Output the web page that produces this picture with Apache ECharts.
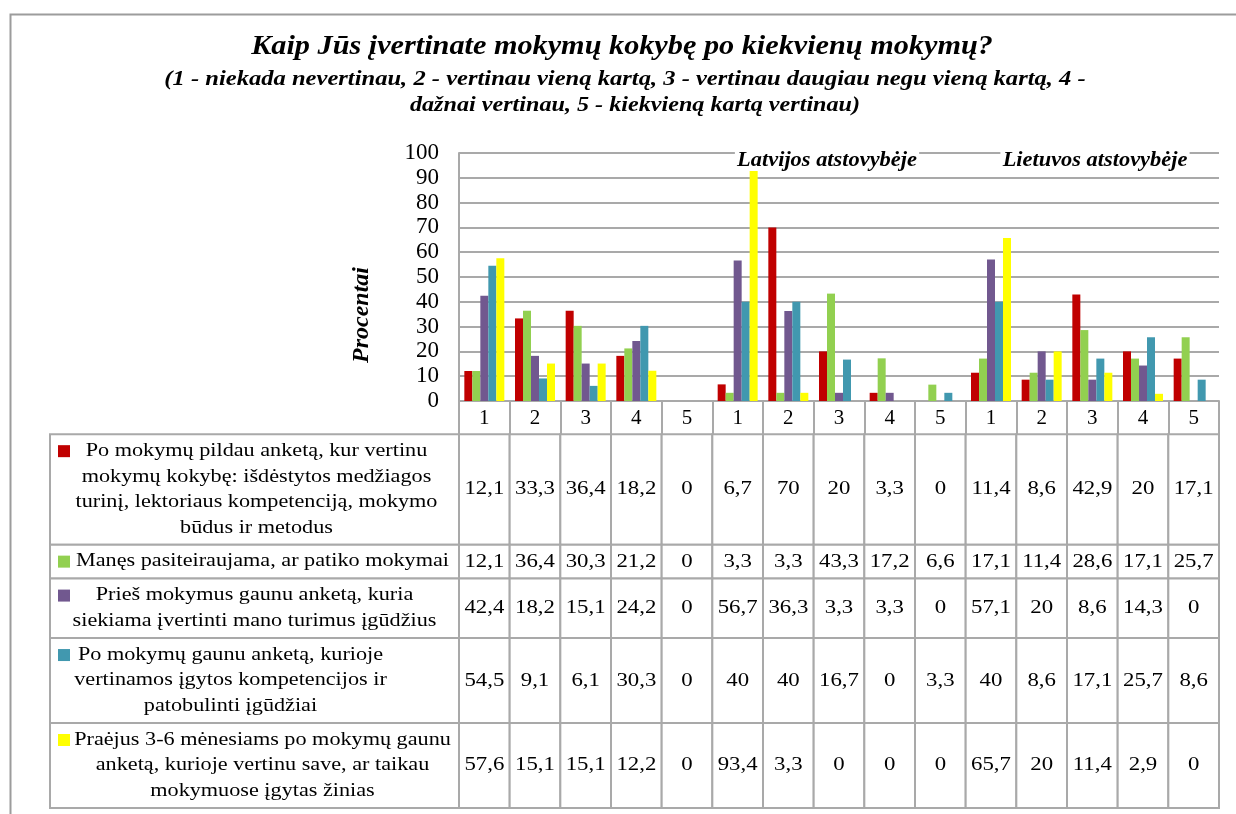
<!DOCTYPE html>
<html>
<head>
<meta charset="utf-8">
<script src="https://cdn.jsdelivr.net/npm/echarts@6/dist/echarts.min.js"></script>
<style>
  html, body { margin: 0; padding: 0; background: #fff; }
  #chart { width: 1236px; height: 814px; }
</style>
</head>
<body>
<div id="chart"></div>
<script>
// Answer scale per group: 1..5, repeated for overall, Latvia and Lithuania
const categories = ['1', '2', '3', '4', '5', '1', '2', '3', '4', '5', '1', '2', '3', '4', '5'];

const seriesNames = [
  'Po mokymų pildau anketą, kur vertinu mokymų kokybę: išdėstytos medžiagos turinį, lektoriaus kompetenciją, mokymo būdus ir metodus',
  'Manęs pasiteiraujama, ar patiko mokymai',
  'Prieš mokymus gaunu anketą, kuria siekiama įvertinti mano turimus įgūdžius',
  'Po mokymų gaunu anketą, kurioje vertinamos įgytos kompetencijos ir patobulinti įgūdžiai',
  'Praėjus 3-6 mėnesiams po mokymų gaunu anketą, kurioje vertinu save, ar taikau mokymuose įgytas žinias'
];

// Wrapped legend text as it appears in the data table
const legendLines = [
  ['Po mokymų pildau anketą, kur vertinu', 'mokymų kokybę: išdėstytos medžiagos', 'turinį, lektoriaus kompetenciją, mokymo', 'būdus ir metodus'],
  ['Manęs pasiteiraujama, ar patiko mokymai'],
  ['Prieš mokymus gaunu anketą, kuria', 'siekiama įvertinti mano turimus įgūdžius'],
  ['Po mokymų gaunu anketą, kurioje', 'vertinamos įgytos kompetencijos ir', 'patobulinti įgūdžiai'],
  ['Praėjus 3-6 mėnesiams po mokymų gaunu', 'anketą, kurioje vertinu save, ar taikau', 'mokymuose įgytas žinias']
];

const seriesColors = ['#C00000', '#92D050', '#71588F', '#4198AF', '#FFFF00'];

// Percentages
const pildauAnketa   = [12.1, 33.3, 36.4, 18.2, 0,   6.7, 70,   20,   3.3,  0,    11.4, 8.6,  42.9, 20,   17.1];
const pasiteiraujama = [12.1, 36.4, 30.3, 21.2, 0,   3.3, 3.3,  43.3, 17.2, 6.6,  17.1, 11.4, 28.6, 17.1, 25.7];
const priesMokymus   = [42.4, 18.2, 15.1, 24.2, 0,   56.7, 36.3, 3.3, 3.3,  0,    57.1, 20,   8.6,  14.3, 0];
const poMokymuGaunu  = [54.5, 9.1,  6.1,  30.3, 0,   40,  40,   16.7, 0,    3.3,  40,   8.6,  17.1, 25.7, 8.6];
const praejus36      = [57.6, 15.1, 15.1, 12.2, 0,   93.4, 3.3, 0,    0,    0,    65.7, 20,   11.4, 2.9,  0];
const seriesValues = [pildauAnketa, pasiteiraujama, priesMokymus, poMokymuGaunu, praejus36];

const yMin = 0, yMax = 100, yStep = 10;
const yAxisTitle = 'Procentai';
const groupLabels = ['Latvijos atstovybėje', 'Lietuvos atstovybėje'];
const titleLines = [
  'Kaip Jūs įvertinate mokymų kokybę po kiekvienų mokymų?',
  '(1 - niekada nevertinau, 2 - vertinau vieną kartą, 3 - vertinau daugiau negu vieną kartą, 4 -',
  'dažnai vertinau, 5 - kiekvieną kartą vertinau)'
];

// ---- layout ----
const SERIF = '"Liberation Serif", "Times New Roman", serif';
const LINE = '#a9a9a9';
const PLOT_LEFT = 459, PLOT_RIGHT = 17;
const LEGEND_W = 409;            // width of the legend column of the data table
const LINE_H = 25.5;             // table text line height
const headerUnits = 1.3;         // table header row (answer scale), in line units
const rowPad = 0.33;
const rowUnits = [headerUnits].concat(legendLines.map(l => l.length + rowPad));
const rowStart = [];
rowUnits.reduce((acc, u, i) => { rowStart[i] = acc; return acc + u; }, 0);
const tableUnits = rowUnits.reduce((a, b) => a + b, 0);
const legendTextShift = [2, 8, 0, -24, 8];
const TEXT_STRETCH = 1.2;

const fmt = v => String(v).replace('.', ',');

// Table cells: legend column (col -1) plus one value cell per category
const tableData = [];
seriesValues.forEach((vals, s) => {
  tableData.push([-1, s + 1, s]);
  vals.forEach((v, c) => tableData.push([c, s + 1, v]));
});

function renderCell(params, api) {
  const col = api.value(0);
  const row = api.value(1);
  const cs = params.coordSys;
  const y0 = api.coord([0, rowStart[row]])[1];
  const y1 = api.coord([0, rowStart[row] + rowUnits[row]])[1];
  let x0, x1;
  if (col < 0) {
    x0 = cs.x - LEGEND_W; x1 = cs.x;
  } else {
    const cx = api.coord([col, 0])[0];
    const w = api.size([1, 0])[0];
    x0 = cx - w / 2; x1 = cx + w / 2;
  }
  const cy = (y0 + y1) / 2;
  const children = [{
    type: 'rect',
    shape: { x: x0, y: y0, width: x1 - x0, height: y1 - y0 },
    style: { fill: '#fff', stroke: LINE, lineWidth: 2 }
  }];
  if (col < 0) {
    const s = api.value(2);
    const lines = legendLines[s];
    const firstY = cy - (lines.length - 1) * LINE_H / 2;
    children.push({
      type: 'rect',
      shape: { x: x0 + 8, y: firstY - 6, width: 12, height: 12 },
      style: { fill: seriesColors[s] }
    });
    children.push({
      type: 'text',
      x: (x0 + x1) / 2 + legendTextShift[s], y: cy,
      scaleX: TEXT_STRETCH,
      style: {
        text: lines.join('\n'), fill: '#000', fontSize: 18.5, fontFamily: SERIF,
        lineHeight: LINE_H, align: 'center', verticalAlign: 'middle'
      }
    });
  } else {
    children.push({
      type: 'text',
      x: (x0 + x1) / 2, y: cy,
      scaleX: TEXT_STRETCH,
      style: {
        text: fmt(api.value(2)), fill: '#000', fontSize: 19, fontFamily: SERIF,
        align: 'center', verticalAlign: 'middle'
      }
    });
  }
  return { type: 'group', children };
}

const titleStyle = (size) => ({
  fill: '#000', fontSize: size, fontFamily: SERIF, fontWeight: 'bold', fontStyle: 'italic',
  align: 'center', verticalAlign: 'middle'
});

const chart = echarts.init(document.getElementById('chart'), null, { renderer: 'canvas' });

chart.setOption({
  backgroundColor: '#fff',
  animation: false,
  graphic: [
    { type: 'rect', left: 8, top: 12, shape: { width: 1300, height: 900 },
      style: { fill: 'none', stroke: '#9c9c9c', lineWidth: 2 }, silent: true, z: -10 },
    { type: 'text', x: 622, y: 47, scaleX: 1.08, style: Object.assign({ text: titleLines[0] }, titleStyle(28)) },
    { type: 'text', x: 625, y: 80, scaleX: 1.17, style: Object.assign({ text: titleLines[1] }, titleStyle(21)) },
    { type: 'text', x: 635, y: 106, scaleX: 1.15, style: Object.assign({ text: titleLines[2] }, titleStyle(21)) },
    { type: 'text', x: 362, y: 315, rotation: Math.PI / 2,
      style: Object.assign({ text: yAxisTitle }, titleStyle(24)) },
    { type: 'text', x: 827, y: 161, scaleX: 1.12, z: 100,
      style: Object.assign({ text: groupLabels[0], backgroundColor: '#fff', padding: [0, 2] }, titleStyle(20)) },
    { type: 'text', x: 1095, y: 161, scaleX: 1.12, z: 100,
      style: Object.assign({ text: groupLabels[1], backgroundColor: '#fff', padding: [0, 2] }, titleStyle(20)) }
  ],
  grid: [
    { left: PLOT_LEFT, right: PLOT_RIGHT, top: 153, height: 248, containLabel: false },
    { left: PLOT_LEFT, right: PLOT_RIGHT, top: 401, height: 407, containLabel: false }
  ],
  xAxis: [
    {
      type: 'category', gridIndex: 0, data: categories, boundaryGap: true,
      axisLine: { show: true, lineStyle: { color: LINE, width: 2 } },
      axisTick: { show: true, interval: 0, length: 33, lineStyle: { color: LINE, width: 2 } },
      axisLabel: { interval: 0, margin: 7, color: '#000', fontSize: 21, fontFamily: SERIF },
      splitLine: { show: false }
    },
    {
      type: 'category', gridIndex: 1, data: categories, boundaryGap: true,
      axisLine: { show: false }, axisTick: { show: false }, axisLabel: { show: false }
    }
  ],
  yAxis: [
    {
      type: 'value', gridIndex: 0, min: yMin, max: yMax, interval: yStep,
      axisLine: { show: true, lineStyle: { color: LINE, width: 2 } },
      axisTick: { show: false },
      axisLabel: { margin: 20, color: '#000', fontSize: 23, fontFamily: SERIF },
      splitLine: { show: true, lineStyle: { color: LINE, width: 2 } }
    },
    {
      type: 'value', gridIndex: 1, min: 0, max: tableUnits, inverse: true,
      axisLine: { show: false }, axisTick: { show: false }, axisLabel: { show: false }, splitLine: { show: false }
    }
  ],
  series: seriesValues.map((vals, i) => ({
    name: seriesNames[i],
    type: 'bar',
    xAxisIndex: 0, yAxisIndex: 0,
    data: vals,
    barWidth: 8,
    barGap: '0%',
    itemStyle: { color: seriesColors[i] }
  })).concat([{
    type: 'custom',
    name: 'table',
    xAxisIndex: 1, yAxisIndex: 1,
    data: tableData,
    renderItem: renderCell,
    clip: false,
    silent: true
  }])
});
</script>
</body>
</html>
